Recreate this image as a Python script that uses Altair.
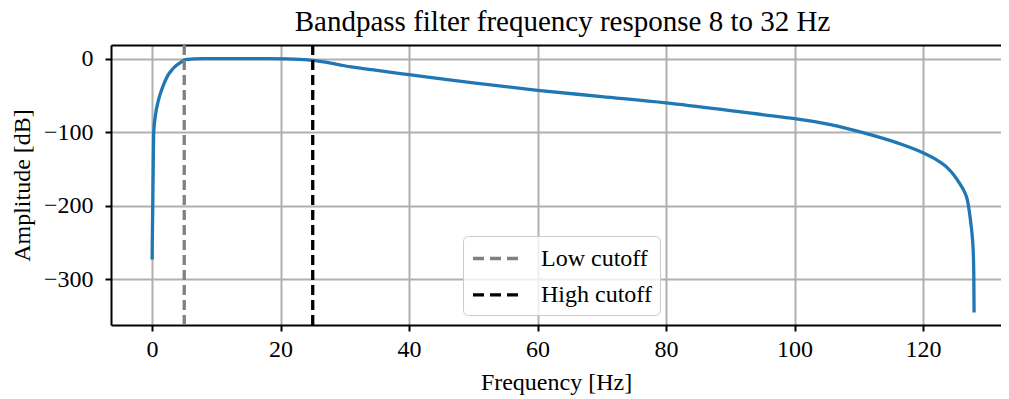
import altair as alt
import pandas as pd

# ---- data ----
freq_hz = [0.0, 0.02, 0.1, 0.18, 0.25, 0.5, 1.0, 1.5, 1.9, 2.5, 3.1, 3.8, 4.7, 5.0,
           5.6, 6.5, 8.0, 12.0, 18.0, 21.0, 23.0, 25.0, 27.0, 29.0, 31.0, 35.0,
           40.0, 50.0, 60.0, 70.0, 80.0, 90.0, 97.8, 100.0, 105.6, 110.8, 116.0,
           120.0, 122.0, 123.8, 124.8, 125.8, 126.4, 126.9, 127.2, 127.5, 127.65,
           127.8, 127.9, 127.95]
amp_db = [-273, -255, -200, -140, -100, -78, -56, -42, -33, -22, -15, -9, -3.6, -1.8,
          -0.8, -0.2, 0, 0, 0, -0.3, -1.0, -2.3, -4.8, -8, -11.3, -16,
          -21.7, -33, -43, -51.5, -60, -70.5, -79.2, -81.4, -89.6, -100.9, -114.5,
          -128, -137, -148.4, -158, -171, -180, -192, -207, -227.6, -240,
          -259, -290, -345]

cutoff_freqs = [5, 25]
cutoff_labels = ["Low cutoff", "High cutoff"]
cutoff_colors = ["#808080", "#000000"]

x_ticks = [0, 20, 40, 60, 80, 100, 120]
y_ticks = [0, -100, -200, -300]

FONT = "Liberation Serif"

curve = pd.DataFrame({"f": freq_hz, "db": amp_db})
cuts = pd.DataFrame({"f": cutoff_freqs, "label": cutoff_labels})

xscale = alt.Scale(domain=[-6.4, 132.14], nice=False, zero=False)
yscale = alt.Scale(domain=[-362, 18.6], nice=False, zero=False)

line = alt.Chart(curve).mark_line(
    color="#1f77b4", strokeWidth=3.3, interpolate="monotone", clip=True
).encode(
    x=alt.X("f:Q", scale=xscale,
            axis=alt.Axis(title="Frequency [Hz]", values=x_ticks, orient="bottom",
                          labelPadding=6, titlePadding=9)),
    y=alt.Y("db:Q", scale=yscale,
            axis=alt.Axis(title="Amplitude [dB]", values=y_ticks,
                          labelPadding=12, titlePadding=9)),
)

rules = alt.Chart(cuts).mark_rule(strokeDash=[10, 5], strokeWidth=3.3).encode(
    x=alt.X("f:Q", scale=xscale, axis=None),
    color=alt.Color(
        "label:N",
        scale=alt.Scale(domain=cutoff_labels, range=cutoff_colors),
        legend=alt.Legend(
            title=None, orient="none", legendX=352, legendY=191,
            symbolType="M-1,0H3", symbolSize=625, symbolStrokeWidth=3.3,
            symbolDash=[11, 6], labelFont=FONT, labelFontSize=24,
            labelOffset=41, labelLimit=0,
            fillColor="rgba(255,255,255,0.8)", strokeColor="#cccccc",
            cornerRadius=5, padding=8, rowPadding=9.4,
        ),
    ),
)

top_spine = alt.Chart(cuts).mark_rule(opacity=0).encode(
    x=alt.X("f:Q", scale=xscale,
            axis=alt.Axis(orient="top", labels=False, ticks=False, grid=False,
                          domain=True, title=None)),
)

chart = (
    alt.layer(line, rules, top_spine)
    .resolve_axis(x="independent")
    .properties(
        width=890, height=280,
        padding={"left": 103, "top": 37, "right": 0, "bottom": 78},
        autosize=alt.AutoSizeParams(type="none"),
        title=alt.TitleParams(
            "Bandpass filter frequency response 8 to 32 Hz",
            font=FONT, fontSize=29, fontWeight="normal", color="black",
            offset=6, frame="group", dx=6.5,
        ),
    )
    .configure_view(stroke=None)
    .configure_axis(
        labelFont=FONT, labelFontSize=24, labelColor="black",
        titleFont=FONT, titleFontSize=24, titleFontWeight="normal", titleColor="black",
        domainColor="black", domainWidth=2,
        tickColor="black", tickWidth=2, tickSize=6,
        grid=True, gridColor="#b0b0b0", gridWidth=2,
    )
)

chart.save("out.html", embed_options={"renderer": "svg", "actions": False})
